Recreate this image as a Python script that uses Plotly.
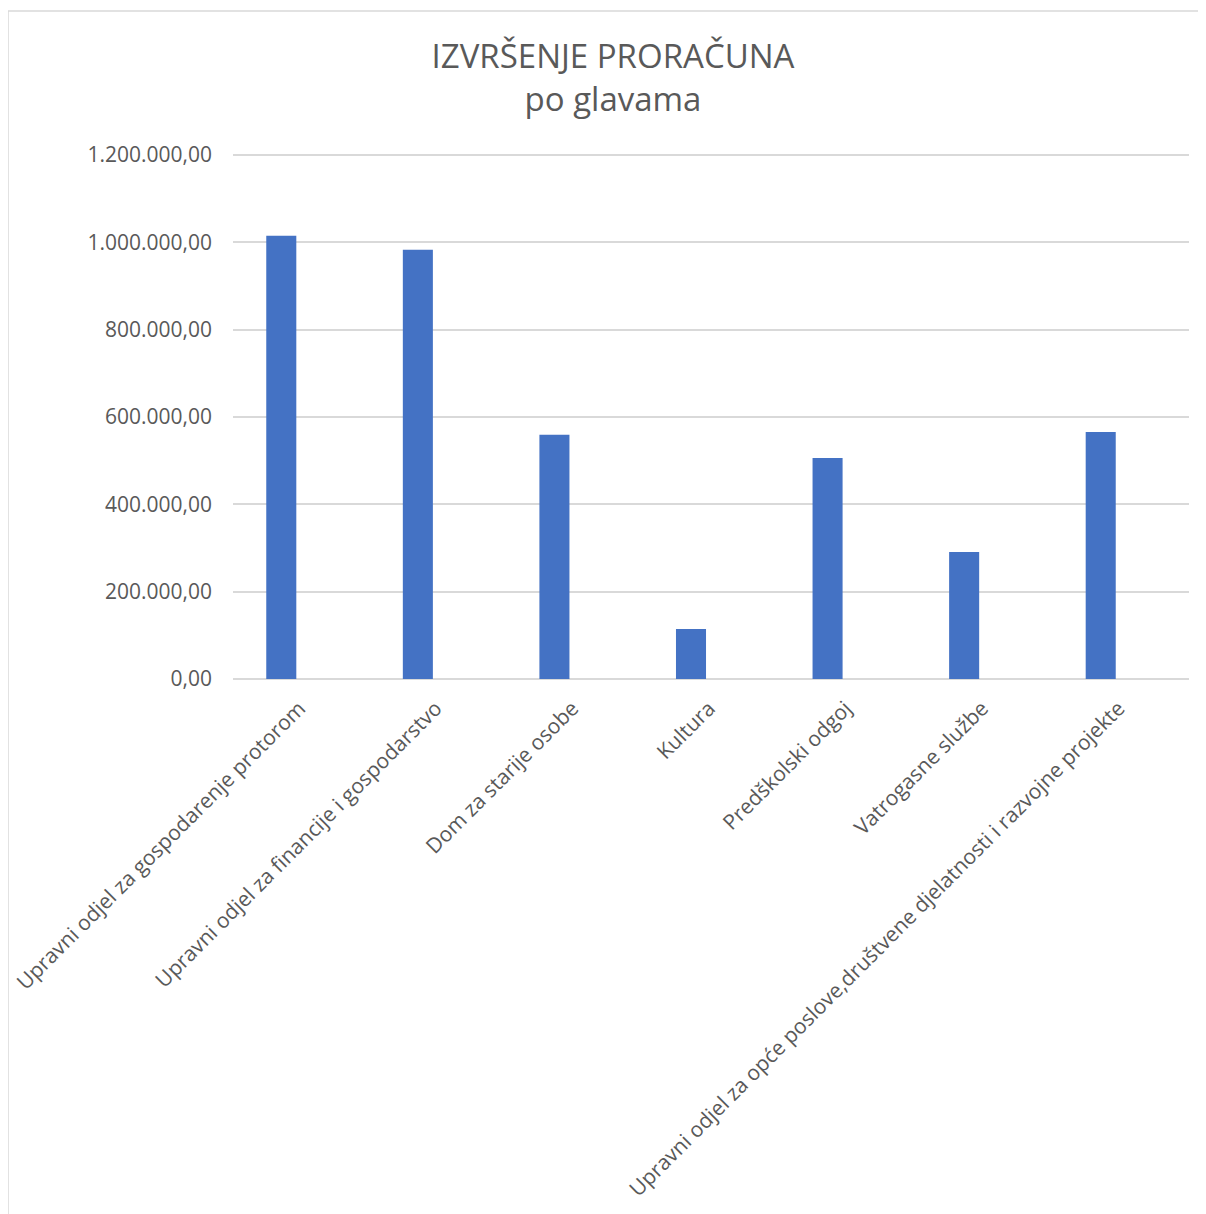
import plotly.graph_objects as go

categories = [
    "Upravni odjel za gospodarenje protorom",
    "Upravni odjel za financije i gospodarstvo",
    "Dom za starije osobe",
    "Kultura",
    "Predškolski odgoj",
    "Vatrogasne službe",
    "Upravni odjel za opće poslove,društvene djelatnosti i razvojne projekte",
]
values = [1015300, 983100, 559500, 114500, 506100, 290800, 565600]
y_ticks = [0, 200000, 400000, 600000, 800000, 1000000, 1200000]

# page is rendered with an 8px body margin
OFF = 8
W, H = 1206 - OFF, 1214 - OFF
L, R, T, B = 233 - OFF, 1189 - OFF, 155 - OFF, 679 - OFF
pw = R - L
HEAD = 3  # px of headroom so the top gridline is drawn
ph = B - T
YMAX = 1200000
ytop = YMAX * (1 + HEAD / ph)

n = len(categories)
slot = pw / n
shift = 20 / slot  # categories sit ~20px left of the gridline span

text_col = "#595959"
grid_col = "#D9D9D9"

fig = go.Figure(go.Bar(x=categories, y=values, marker=dict(color="#4472C4", line=dict(width=0))))

fig.update_layout(
    width=W, height=H,
    margin=dict(l=L, r=W - R, t=T - HEAD, b=H - B, pad=0),
    paper_bgcolor="white", plot_bgcolor="white",
    separators=",.",
    bargap=0.78,
    showlegend=False,
    font=dict(family="Open Sans", color=text_col, size=21),
    title=dict(
        text="IZVRŠENJE PRORAČUNA<br>po glavama",
        x=(613 - OFF) / W, xanchor="center", xref="container",
        y=1 - 60 / H, yanchor="middle", yref="container",
        font=dict(family="Open Sans", size=33, color=text_col),
    ),
)

fig.update_xaxes(
    range=[-0.5 + shift, n - 0.5 + shift],
    tickangle=-45, tickfont=dict(size=21, color=text_col, family="Open Sans"),
    showgrid=False, showline=False, zeroline=False, ticks="",
    ticklabelstandoff=12, ticklabelshift=18,
    automargin=False,
)
fig.update_yaxes(
    range=[0, ytop], tickvals=y_ticks, tickformat=",.2f",
    showgrid=True, gridcolor=grid_col, gridwidth=1.5,
    zeroline=True, zerolinecolor=grid_col, zerolinewidth=1.5,
    showline=False, ticks="",
    tickfont=dict(size=21, color=text_col, family="Open Sans"),
    ticklabelstandoff=20,
    automargin=False,
)

# chart-area border (left and top edges visible; right/bottom run off the page)
fig.add_shape(
    type="rect", xref="paper", yref="paper",
    x0=(8 - OFF - L) / pw, x1=(1240 - OFF - L) / pw,
    y0=(B - 1250) / (B - T + HEAD), y1=1 + (T - HEAD - (11 - OFF)) / (B - T + HEAD),
    line=dict(color="#D9D9D9", width=1.5), fillcolor="rgba(0,0,0,0)", layer="below",
)

fig.write_html("out.html")
